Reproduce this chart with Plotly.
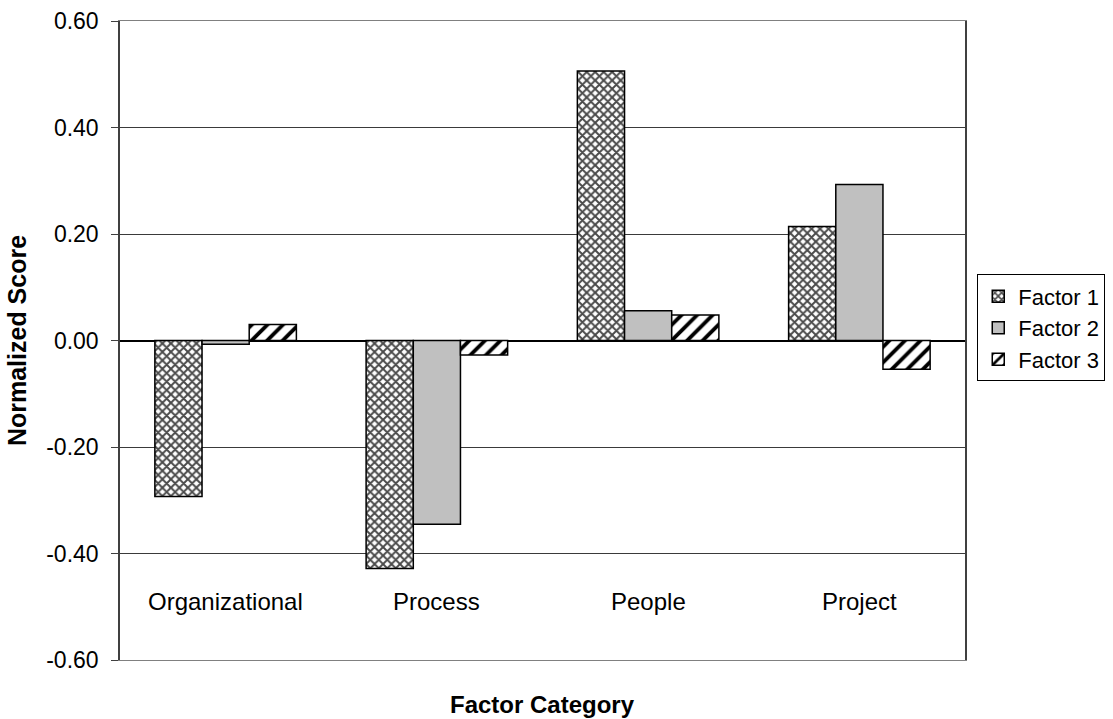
import plotly.graph_objects as go

categories = ["Organizational", "Process", "People", "Project"]
factor1 = [-0.293, -0.428, 0.506, 0.214]
factor2 = [-0.007, -0.345, 0.056, 0.293]
factor3 = [0.030, -0.027, 0.048, -0.054]
series_names = ["Factor 1", "Factor 2", "Factor 3"]
y_ticks = [-0.6, -0.4, -0.2, 0.0, 0.2, 0.4, 0.6]

FONT = "Liberation Sans, Arial, sans-serif"
outline = dict(color="black", width=1.5)

fig = go.Figure()
fig.add_trace(go.Bar(
    x=categories, y=factor1, name=series_names[0],
    marker=dict(color="#7f7f7f", line=outline,
                pattern=dict(shape="x", fgcolor="#4a4a4a", bgcolor="white",
                             size=6, solidity=0.55, fillmode="replace")),
))
fig.add_trace(go.Bar(
    x=categories, y=factor2, name=series_names[1],
    marker=dict(color="#c0c0c0", line=outline),
))
fig.add_trace(go.Bar(
    x=categories, y=factor3, name=series_names[2],
    marker=dict(color="white", line=outline,
                pattern=dict(shape="/", fgcolor="black", bgcolor="white",
                             size=11, solidity=0.35, fillmode="replace")),
))

# Category names sit low inside the plot area
for cat in categories:
    fig.add_annotation(x=cat, y=-0.49, xref="x", yref="y", text=cat,
                       showarrow=False, font=dict(size=24, color="black", family=FONT))

fig.add_annotation(x=0.5, y=-0.045, xref="paper", yref="paper", yanchor="top",
                   text="<b>Factor Category</b>", showarrow=False,
                   font=dict(size=24, color="black", family=FONT))

fig.update_layout(
    width=1113, height=719,
    margin=dict(l=120, r=148, t=21, b=59, autoexpand=False),
    paper_bgcolor="white", plot_bgcolor="white",
    barmode="group", bargap=0.33, bargroupgap=0,
    font=dict(family=FONT, size=23, color="black"),
    showlegend=True,
    legend=dict(x=1.0145, y=0.6035, xanchor="left", yanchor="top",
                bordercolor="black", borderwidth=1, bgcolor="white",
                font=dict(size=22, family=FONT), itemwidth=30,
                tracegroupgap=0),
    xaxis=dict(showticklabels=False, ticks="", showgrid=False, zeroline=False,
               showline=True, mirror=True, linecolor="#808080", linewidth=1),
    yaxis=dict(range=[-0.6, 0.6], tickvals=y_ticks,
               ticktext=[f"{v:.2f}" for v in y_ticks],
               ticks="outside", ticklen=7, tickcolor="#404040",
               ticklabelstandoff=8,
               showgrid=True, gridcolor="#3a3a3a", gridwidth=1,
               zeroline=True, zerolinecolor="black", zerolinewidth=2,
               showline=True, mirror=True, linecolor="#404040", linewidth=1.5,
               tickfont=dict(size=23, family=FONT),
               title=dict(text="<b>Normalized Score</b>", standoff=12,
                          font=dict(size=25, family=FONT))),
)

fig.write_html("out.html")
